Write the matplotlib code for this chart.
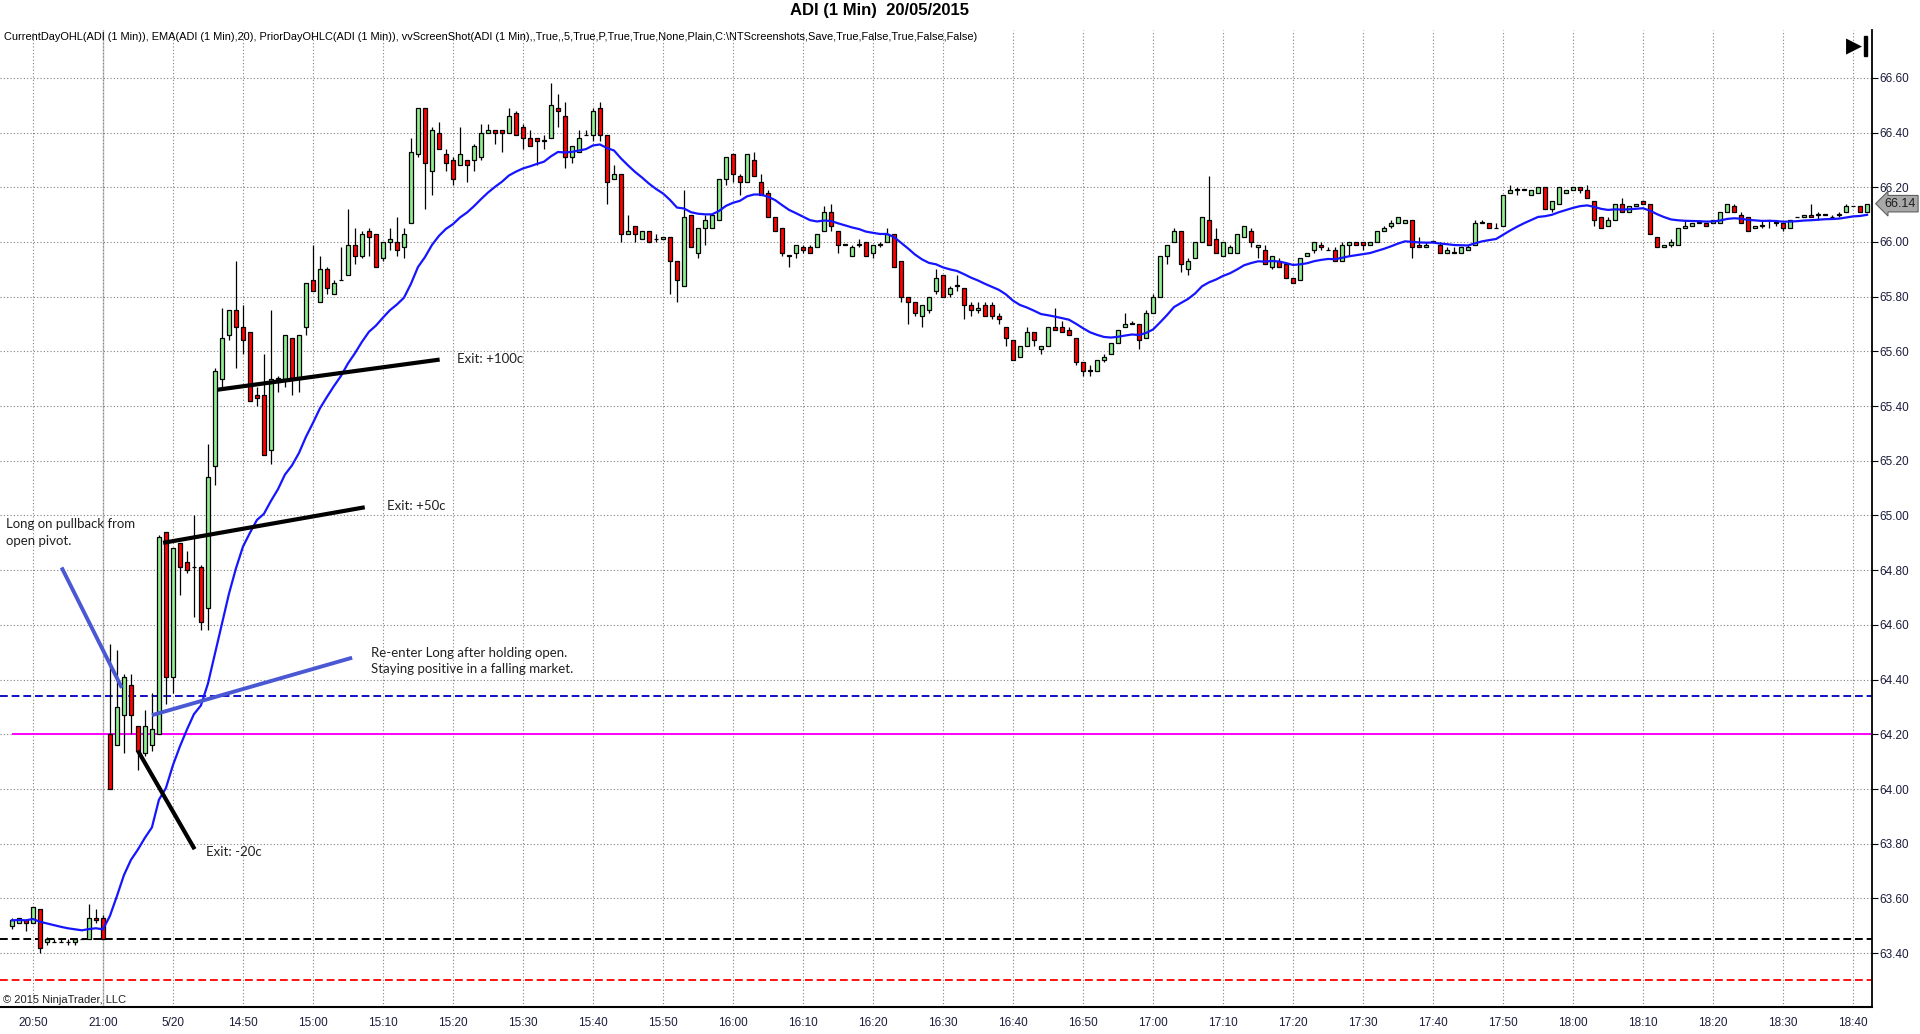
import matplotlib
matplotlib.use("Agg")
import matplotlib.pyplot as plt
from matplotlib.ticker import MultipleLocator, FormatStrFormatter
from matplotlib.patches import Rectangle
import numpy as np
import pandas as pd

# ---- bar data (ADI 1 min), prior session tail then 20/05 session ----
opens = [
    63.50, 63.51, 63.52, 63.51, 63.56, 63.44, 63.44, 63.44, 63.44, 63.44,
    63.45, 63.45, 63.53, 63.53,
    64.20, 64.16, 64.27, 64.38, 64.23, 64.13, 64.16, 64.20, 64.94, 64.41,
    64.90, 64.83, 64.81, 64.81, 64.66, 65.18, 65.50, 65.66, 65.75, 65.69,
    65.67, 65.44, 65.44, 65.24, 65.50, 65.50, 65.65, 65.50, 65.69, 65.86,
    65.78, 65.90, 65.81, 65.86, 65.88, 65.99, 65.95, 66.04, 66.03, 65.94,
    66.00, 66.00, 65.98, 66.07, 66.32, 66.49, 66.26, 66.40, 66.32, 66.30,
    66.28, 66.30, 66.30, 66.31, 66.40, 66.41, 66.41, 66.40, 66.47, 66.42,
    66.38, 66.38, 66.37, 66.38, 66.49, 66.46, 66.31, 66.33, 66.39, 66.39,
    66.49, 66.39, 66.23, 66.25, 66.03, 66.06, 66.01, 66.04, 66.01, 66.01,
    66.02, 65.93, 65.84, 66.10, 65.96, 66.05, 66.05, 66.08, 66.23, 66.32,
    66.24, 66.22, 66.30, 66.22, 66.18, 66.09, 66.05, 65.95, 65.96, 65.98,
    65.98, 65.98, 66.04, 66.11, 66.04, 65.99, 65.95, 65.99, 66.00, 65.96,
    65.99, 66.00, 66.03, 65.93, 65.80, 65.78, 65.73, 65.75, 65.82, 65.88,
    65.81, 65.84, 65.83, 65.77, 65.75, 65.77, 65.77, 65.73, 65.69, 65.64,
    65.58, 65.62, 65.67, 65.61, 65.62, 65.69, 65.69, 65.68, 65.65, 65.56,
    65.53, 65.53, 65.57, 65.59, 65.63, 65.69, 65.70, 65.70, 65.65, 65.74,
    65.80, 65.95, 66.00, 66.04, 65.90, 65.94, 66.00, 66.08, 66.01, 65.95,
    65.96, 65.96, 66.02, 66.04, 65.98, 65.97, 65.91, 65.93, 65.92, 65.87,
    65.86, 65.95, 65.97, 65.99, 65.97, 65.97, 65.93, 65.99, 66.00, 66.00,
    65.99, 66.00, 66.04, 66.06, 66.07, 66.07, 66.08, 65.99, 65.98, 66.00,
    65.99, 65.96, 65.96, 65.96, 65.97, 65.99, 66.07, 66.07, 66.05, 66.06,
    66.18, 66.19, 66.19, 66.17, 66.18, 66.20, 66.12, 66.14, 66.18, 66.19,
    66.20, 66.19, 66.15, 66.09, 66.06, 66.08, 66.14, 66.11, 66.13, 66.15,
    66.14, 66.02, 65.98, 65.99, 65.99, 66.05, 66.06, 66.07, 66.07, 66.07,
    66.07, 66.11, 66.13, 66.10, 66.09, 66.05, 66.06, 66.08, 66.07, 66.07,
    66.05, 66.09, 66.09, 66.10, 66.10, 66.10, 66.09, 66.10, 66.11, 66.13,
    66.13, 66.11,
]
highs = [
    63.53, 63.53, 63.52, 63.57, 63.56, 63.46, 63.45, 63.45, 63.45, 63.45,
    63.45, 63.58, 63.56, 63.54,
    64.53, 64.51, 64.42, 64.42, 64.23, 64.29, 64.35, 64.93, 64.94, 64.88,
    64.90, 64.87, 65.00, 64.82, 65.26, 65.54, 65.76, 65.75, 65.93, 65.77,
    65.67, 65.47, 65.59, 65.75, 65.51, 65.66, 65.65, 65.66, 65.85, 65.99,
    65.95, 65.91, 65.86, 65.98, 66.12, 66.05, 66.04, 66.05, 66.03, 66.00,
    66.05, 66.09, 66.05, 66.38, 66.49, 66.49, 66.42, 66.44, 66.34, 66.31,
    66.42, 66.30, 66.36, 66.43, 66.43, 66.41, 66.41, 66.49, 66.48, 66.43,
    66.41, 66.38, 66.39, 66.58, 66.54, 66.51, 66.35, 66.41, 66.41, 66.49,
    66.51, 66.39, 66.28, 66.25, 66.10, 66.06, 66.04, 66.04, 66.03, 66.02,
    66.02, 65.93, 66.19, 66.10, 66.05, 66.10, 66.10, 66.23, 66.31, 66.32,
    66.25, 66.32, 66.33, 66.25, 66.19, 66.09, 66.05, 65.95, 65.99, 65.99,
    65.99, 66.03, 66.13, 66.14, 66.04, 65.99, 65.99, 66.01, 66.00, 65.99,
    66.00, 66.05, 66.03, 65.93, 65.80, 65.78, 65.77, 65.80, 65.90, 65.88,
    65.84, 65.88, 65.83, 65.78, 65.78, 65.78, 65.78, 65.74, 65.69, 65.64,
    65.62, 65.69, 65.67, 65.62, 65.69, 65.76, 65.71, 65.69, 65.65, 65.56,
    65.55, 65.57, 65.59, 65.63, 65.68, 65.74, 65.71, 65.70, 65.75, 65.81,
    65.95, 65.99, 66.05, 66.04, 65.94, 66.00, 66.09, 66.24, 66.05, 66.00,
    65.99, 66.03, 66.06, 66.05, 65.99, 65.99, 65.95, 65.94, 65.92, 65.87,
    65.94, 65.96, 66.00, 66.00, 65.98, 65.98, 66.00, 66.00, 66.00, 66.00,
    66.00, 66.04, 66.06, 66.08, 66.09, 66.08, 66.08, 66.02, 66.00, 66.00,
    66.00, 65.98, 65.98, 65.98, 65.99, 66.08, 66.08, 66.07, 66.07, 66.17,
    66.21, 66.20, 66.19, 66.19, 66.20, 66.20, 66.15, 66.20, 66.19, 66.20,
    66.20, 66.21, 66.15, 66.09, 66.09, 66.14, 66.16, 66.13, 66.14, 66.15,
    66.14, 66.02, 65.99, 66.01, 66.05, 66.08, 66.07, 66.08, 66.07, 66.08,
    66.11, 66.14, 66.14, 66.11, 66.09, 66.06, 66.08, 66.08, 66.07, 66.07,
    66.08, 66.09, 66.10, 66.14, 66.11, 66.10, 66.10, 66.11, 66.14, 66.13,
    66.13, 66.14,
]
lows = [
    63.49, 63.51, 63.48, 63.51, 63.40, 63.43, 63.44, 63.44, 63.43, 63.43,
    63.45, 63.45, 63.51, 63.45,
    64.00, 64.16, 64.13, 64.20, 64.07, 64.12, 64.14, 64.20, 64.31, 64.35,
    64.71, 64.79, 64.63, 64.58, 64.58, 65.11, 65.47, 65.64, 65.54, 65.59,
    65.42, 65.40, 65.22, 65.19, 65.45, 65.47, 65.44, 65.45, 65.66, 65.82,
    65.78, 65.81, 65.81, 65.86, 65.88, 65.92, 65.94, 65.95, 65.91, 65.93,
    65.97, 65.95, 65.94, 66.07, 66.31, 66.12, 66.17, 66.34, 66.26, 66.21,
    66.28, 66.22, 66.26, 66.30, 66.40, 66.36, 66.33, 66.40, 66.39, 66.34,
    66.35, 66.28, 66.34, 66.38, 66.42, 66.27, 66.29, 66.33, 66.39, 66.37,
    66.37, 66.14, 66.23, 66.00, 66.03, 66.00, 66.01, 66.00, 66.00, 66.01,
    65.81, 65.78, 65.84, 65.98, 65.94, 65.99, 66.05, 66.08, 66.21, 66.22,
    66.17, 66.22, 66.24, 66.17, 66.09, 66.04, 65.95, 65.91, 65.94, 65.96,
    65.96, 65.98, 66.04, 66.04, 65.96, 65.99, 65.95, 65.98, 65.95, 65.94,
    65.98, 66.00, 65.91, 65.78, 65.70, 65.73, 65.69, 65.74, 65.81, 65.80,
    65.80, 65.82, 65.72, 65.73, 65.74, 65.73, 65.72, 65.70, 65.62, 65.57,
    65.58, 65.62, 65.62, 65.59, 65.62, 65.68, 65.67, 65.66, 65.55, 65.51,
    65.51, 65.53, 65.56, 65.59, 65.63, 65.69, 65.70, 65.61, 65.65, 65.74,
    65.80, 65.92, 66.00, 65.89, 65.88, 65.94, 66.00, 65.99, 65.96, 65.95,
    65.96, 65.96, 66.02, 65.98, 65.94, 65.92, 65.90, 65.91, 65.87, 65.85,
    65.86, 65.95, 65.96, 65.97, 65.97, 65.93, 65.93, 65.95, 65.99, 65.97,
    65.99, 66.00, 66.04, 66.05, 66.07, 66.07, 65.94, 65.98, 65.98, 66.00,
    65.96, 65.96, 65.96, 65.96, 65.97, 65.99, 66.07, 66.05, 66.05, 66.06,
    66.18, 66.17, 66.19, 66.17, 66.18, 66.12, 66.11, 66.14, 66.18, 66.19,
    66.18, 66.16, 66.06, 66.05, 66.06, 66.08, 66.11, 66.11, 66.13, 66.14,
    66.03, 65.98, 65.98, 65.98, 65.99, 66.05, 66.06, 66.07, 66.06, 66.07,
    66.07, 66.11, 66.11, 66.07, 66.04, 66.05, 66.05, 66.05, 66.06, 66.04,
    66.05, 66.09, 66.09, 66.09, 66.08, 66.10, 66.09, 66.09, 66.11, 66.13,
    66.11, 66.11,
]
closes = [
    63.52, 63.53, 63.51, 63.57, 63.42, 63.45, 63.44, 63.44, 63.44, 63.45,
    63.45, 63.53, 63.52, 63.45,
    64.00, 64.30, 64.41, 64.27, 64.14, 64.23, 64.22, 64.92, 64.41, 64.88,
    64.81, 64.80, 64.81, 64.61, 65.14, 65.53, 65.65, 65.75, 65.69, 65.64,
    65.42, 65.43, 65.22, 65.50, 65.50, 65.66, 65.50, 65.66, 65.85, 65.82,
    65.90, 65.83, 65.85, 65.86, 65.99, 65.95, 66.03, 66.02, 65.91, 66.00,
    66.01, 65.97, 66.03, 66.33, 66.49, 66.29, 66.41, 66.34, 66.29, 66.23,
    66.32, 66.28, 66.35, 66.40, 66.41, 66.40, 66.40, 66.46, 66.39, 66.38,
    66.35, 66.37, 66.37, 66.50, 66.48, 66.31, 66.35, 66.38, 66.39, 66.48,
    66.39, 66.22, 66.25, 66.03, 66.04, 66.03, 66.04, 66.00, 66.01, 66.02,
    65.93, 65.86, 66.09, 65.98, 66.05, 66.08, 66.10, 66.23, 66.31, 66.25,
    66.22, 66.32, 66.24, 66.17, 66.09, 66.04, 65.96, 65.95, 65.99, 65.97,
    65.96, 66.03, 66.11, 66.06, 65.99, 65.99, 65.98, 65.99, 65.95, 65.99,
    65.99, 66.03, 65.91, 65.80, 65.78, 65.74, 65.77, 65.80, 65.87, 65.80,
    65.83, 65.84, 65.77, 65.75, 65.76, 65.73, 65.73, 65.72, 65.65, 65.57,
    65.62, 65.67, 65.64, 65.62, 65.69, 65.68, 65.67, 65.66, 65.56, 65.53,
    65.53, 65.57, 65.58, 65.63, 65.68, 65.70, 65.70, 65.64, 65.74, 65.80,
    65.95, 65.99, 66.04, 65.92, 65.93, 66.00, 66.09, 65.99, 65.96, 66.00,
    65.98, 66.03, 66.06, 66.00, 65.99, 65.92, 65.95, 65.91, 65.87, 65.85,
    65.94, 65.96, 66.00, 65.98, 65.97, 65.93, 65.99, 66.00, 65.99, 65.99,
    66.00, 66.04, 66.05, 66.07, 66.09, 66.08, 65.98, 65.98, 65.99, 66.00,
    65.96, 65.97, 65.96, 65.98, 65.98, 66.07, 66.07, 66.05, 66.05, 66.17,
    66.19, 66.19, 66.19, 66.19, 66.20, 66.12, 66.15, 66.20, 66.19, 66.20,
    66.19, 66.16, 66.08, 66.05, 66.08, 66.14, 66.11, 66.13, 66.14, 66.14,
    66.03, 65.98, 65.99, 66.00, 66.05, 66.06, 66.07, 66.07, 66.06, 66.08,
    66.11, 66.14, 66.11, 66.07, 66.04, 66.06, 66.06, 66.08, 66.07, 66.05,
    66.08, 66.09, 66.10, 66.09, 66.10, 66.10, 66.09, 66.10, 66.13, 66.13,
    66.11, 66.14,
]

# bar times: tail of 19/05 session, then 20/05 from 14:31
pre_times = ["20:%02d" % m for m in range(47, 60)] + ["21:00"]
session_times = ["%d:%02d" % (h, m) for h in range(14, 19) for m in range(60)
                 if (14, 31) <= (h, m) <= (18, 42)]
times = pre_times + session_times

tick_times = ["20:50", "21:00", "14:40", "14:50", "15:00", "15:10", "15:20", "15:30",
              "15:40", "15:50", "16:00", "16:10", "16:20", "16:30", "16:40", "16:50",
              "17:00", "17:10", "17:20", "17:30", "17:40", "17:50", "18:00", "18:10",
              "18:20", "18:30", "18:40"]
tick_labels = [t if t != "14:40" else "5/20" for t in tick_times]

# prior day / current day levels
prior_high = 64.34
current_open = 64.20
prior_close = 63.45
prior_low = 63.30
last_price = closes[-1]

title = "ADI (1 Min)  20/05/2015"
indicators = ("CurrentDayOHL(ADI (1 Min)), EMA(ADI (1 Min),20), PriorDayOHLC(ADI (1 Min)), "
              "vvScreenShot(ADI (1 Min),,True,,5,True,P,True,True,None,Plain,"
              "C:\\NTScreenshots,Save,True,False,True,False,False)")

# ---- figure ----
W, H = 1920, 1034
fig = plt.figure(figsize=(W / 100, H / 100), dpi=100)
fig.patch.set_facecolor("white")
ax = fig.add_axes([0, 1 - 1007 / H, 1872 / W, (1007 - 30) / H])

o = np.array(opens)
h = np.array(highs)
l = np.array(lows)
c = np.array(closes)
x = np.arange(len(c))

up_col = "#90ee90"
dn_col = "#ff0000"
cols = np.where(c >= o, up_col, dn_col)
body = np.abs(c - o)
body = np.where(body < 0.002, 0.002, body)

ax.vlines(x, l, h, color="black", lw=0.9, zorder=3)
ax.bar(x, body, bottom=np.minimum(o, c), width=0.6, color=cols,
       edgecolor="black", linewidth=0.9, zorder=4)

ema = pd.Series(c).ewm(span=20, adjust=False).mean()
ax.plot(x, ema, color="#1515ff", lw=1.6, zorder=5)

# level lines
ax.axhline(prior_high, color="#1010c8", lw=1.4, ls=(0, (4, 2)), zorder=2)
ax.axhline(prior_close, color="black", lw=1.4, ls=(0, (4, 2)), zorder=2)
ax.axhline(prior_low, color="#ff1010", lw=1.4, ls=(0, (4, 2)), zorder=2)
ax.hlines(current_open, 0, len(c) + 5, color="#ff00ff", lw=1.4, zorder=2)

# grid
tick_pos = [times.index(t) for t in tick_times]
ax.set_xticks(tick_pos)
ax.set_xticks([], minor=True)
ax.set_xticklabels(tick_labels)
ax.grid(True, which="major", color="#808080", lw=0.8, ls=(0, (1, 2)), zorder=0)
ax.axvline(times.index("21:00"), color="#c4c4c4", lw=1.0, zorder=1)

ax.set_xlim(-1.7, 265.7)
ax.set_ylim(63.203, 66.775)
ax.yaxis.set_major_locator(MultipleLocator(0.2))
ax.yaxis.set_major_formatter(FormatStrFormatter("%.2f"))
ax.yaxis.tick_right()
ax.tick_params(axis="y", direction="out", length=4, width=0.8, pad=1,
               labelsize=8.5, labelcolor="#1c1c3c")
ax.tick_params(axis="x", length=0, pad=7, labelsize=8.5, labelcolor="#1c1c3c")
for s in ["top", "left"]:
    ax.spines[s].set_visible(False)
ax.spines["right"].set_linewidth(1.3)
ax.spines["bottom"].set_linewidth(1.5)
for lab in ax.get_xticklabels() + ax.get_yticklabels():
    lab.set_family(["Liberation Sans", "DejaVu Sans"])

# drawn trade annotations (bar index, price)
ann_font = ["Lato", "DejaVu Sans"]
blue_pen = "#4a58d4"
ax.plot([7.1, 15.7], [64.81, 64.37], color=blue_pen, lw=2.8, zorder=6, solid_capstyle="butt")
ax.plot([20.0, 48.6], [64.27, 64.48], color=blue_pen, lw=2.8, zorder=6, solid_capstyle="butt")
ax.plot([18.0, 26.1], [64.14, 63.78], color="black", lw=3.0, zorder=6, solid_capstyle="butt")
ax.plot([21.6, 50.4], [64.90, 65.03], color="black", lw=3.0, zorder=6, solid_capstyle="butt")
ax.plot([29.4, 61.1], [65.46, 65.57], color="black", lw=3.0, zorder=6, solid_capstyle="butt")

ax.text(-0.9, 64.99, "Long on pullback from\nopen pivot.", ha="left", va="top",
        fontsize=9.5, family=ann_font, color="#222222", linespacing=1.45, zorder=7)
ax.text(63.6, 65.573, "Exit: +100c", ha="left", va="center", fontsize=9.5,
        family=ann_font, color="#222222", zorder=7)
ax.text(53.6, 65.035, "Exit: +50c", ha="left", va="center", fontsize=9.5,
        family=ann_font, color="#222222", zorder=7)
ax.text(51.3, 64.52, "Re-enter Long after holding open.\nStaying positive in a falling market.",
        ha="left", va="top", fontsize=9.5, family=ann_font, color="#222222",
        linespacing=1.45, zorder=7)
ax.text(27.7, 63.77, "Exit: -20c", ha="left", va="center", fontsize=9.5,
        family=ann_font, color="#222222", zorder=7)

# last price marker on the price axis
ax.annotate("%.2f" % last_price, xy=(1.0, last_price), xycoords=("axes fraction", "data"),
            xytext=(9, 0), textcoords="offset points", ha="left", va="center",
            fontsize=9, family=["Liberation Sans", "DejaVu Sans"], color="#1c1c1c",
            bbox=dict(boxstyle="larrow,pad=0.18", fc="#a8a8a8", ec="#606060", lw=0.8),
            zorder=8, annotation_clip=False)

narrow = ["Liberation Sans Narrow", "Liberation Sans", "DejaVu Sans"]
fig.text(880 / W, 1 - 10 / H, title, ha="center", va="center", fontsize=12,
         fontweight="bold", family=narrow)
fig.text(4 / W, 1 - 37 / H, indicators, ha="left", va="center", fontsize=7.9, family=narrow)
fig.text(3 / W, 1 - 1000 / H, "\u00a9 2015 NinjaTrader, LLC", ha="left", va="center",
         fontsize=8, family=narrow, color="#202020")

# "go to end" glyph in the top right corner
fig.text(1846 / W, 1 - 46 / H, "\u25b6", ha="left", va="center", fontsize=15,
         family=["DejaVu Sans"], color="black")
fig.patches.append(Rectangle((1864 / W, 1 - 56 / H), 3 / W, 20 / H,
                             transform=fig.transFigure, color="black"))

fig.savefig("out.png", dpi=100, facecolor="white")
